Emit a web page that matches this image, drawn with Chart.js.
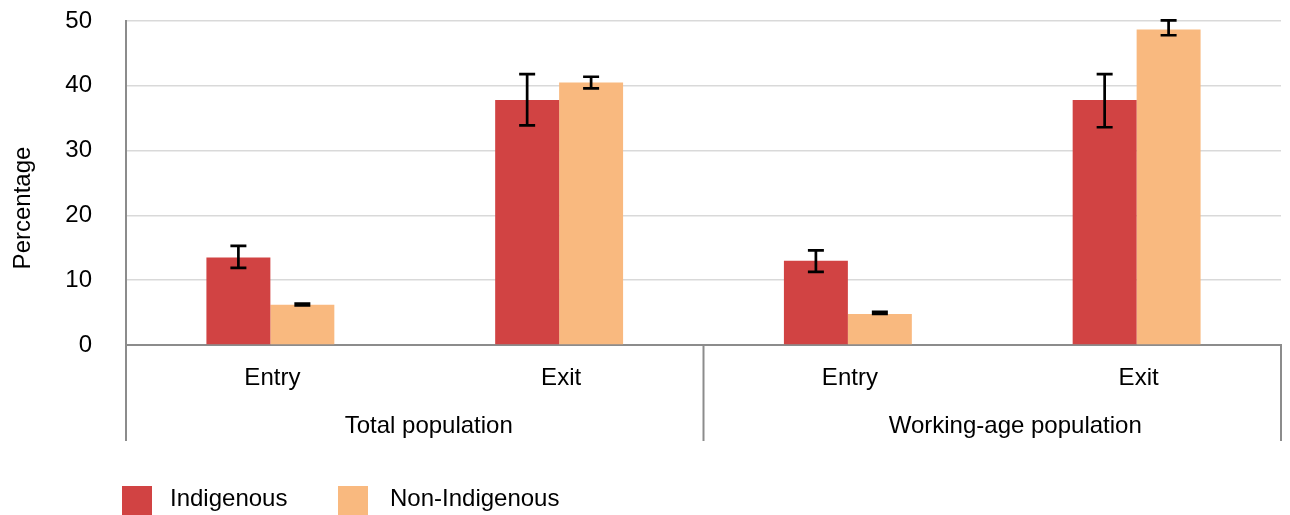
<!DOCTYPE html>
<html>
<head>
<meta charset="utf-8">
<title>Entry and exit rates</title>
<script src="https://cdn.jsdelivr.net/npm/chart.js@4/dist/chart.umd.min.js"></script>
<style>
  html, body { margin: 0; padding: 0; background: #ffffff; }
  #wrap { width: 1290px; height: 515px; position: relative; }
</style>
</head>
<body>
<div id="wrap"><canvas id="chart"></canvas></div>
<script>
// Categories and groups
const categories = ['Entry', 'Exit', 'Entry', 'Exit'];
const groups = ['Total population', 'Working-age population'];

// Series values (percentage) with confidence interval bounds
const indigenous = [13.5, 37.8, 13.0, 37.8];
const indigenousLow = [11.9, 33.9, 11.3, 33.6];
const indigenousHigh = [15.3, 41.8, 14.6, 41.8];

const nonIndigenous = [6.2, 40.5, 4.8, 48.7];
const nonIndigenousLow = [6.1, 39.6, 4.8, 47.8];
const nonIndigenousHigh = [6.4, 41.4, 5.1, 50.1];

// Y axis ticks
const yTicks = [0, 10, 20, 30, 40, 50];
const yTitle = 'Percentage';

const FONT = "'Liberation Sans', Arial, Helvetica, sans-serif";
const FONT_SIZE = 24;
const RED = '#d14343';
const ORANGE = '#f9b97f';
const AXIS_GREY = '#8c8c8c';

const intervals = [
  { low: indigenousLow, high: indigenousHigh },
  { low: nonIndigenousLow, high: nonIndigenousHigh }
];

// Draws the interval whiskers on top of each bar
const errorBars = {
  id: 'errorBars',
  afterDatasetsDraw(chart) {
    const ctx = chart.ctx;
    const y = chart.scales.y;
    ctx.save();
    ctx.strokeStyle = '#000000';
    ctx.lineWidth = 2.7;
    chart.data.datasets.forEach((ds, i) => {
      const meta = chart.getDatasetMeta(i);
      meta.data.forEach((bar, j) => {
        const yl = y.getPixelForValue(intervals[i].low[j]);
        const yh = y.getPixelForValue(intervals[i].high[j]);
        const cap = 8;
        ctx.beginPath();
        ctx.moveTo(bar.x, yl); ctx.lineTo(bar.x, yh);
        ctx.moveTo(bar.x - cap, yl); ctx.lineTo(bar.x + cap, yl);
        ctx.moveTo(bar.x - cap, yh); ctx.lineTo(bar.x + cap, yh);
        ctx.stroke();
      });
    });
    ctx.restore();
  }
};

// Group separators and group names below the category axis, y-axis title and legend
const decorations = {
  id: 'decorations',
  afterDraw(chart) {
    const ctx = chart.ctx;
    const x = chart.scales.x;
    const area = chart.chartArea;
    const bottom = area.bottom + 96;
    const mid = (x.getPixelForValue(1) + x.getPixelForValue(2)) / 2;
    ctx.save();
    ctx.strokeStyle = AXIS_GREY;
    ctx.lineWidth = 2;
    [x.left, mid, x.right].forEach(px => {
      ctx.beginPath();
      ctx.moveTo(px, area.bottom);
      ctx.lineTo(px, bottom);
      ctx.stroke();
    });

    ctx.fillStyle = '#000000';
    ctx.font = FONT_SIZE + 'px ' + FONT;

    // Group names
    ctx.textAlign = 'center';
    ctx.textBaseline = 'alphabetic';
    const groupCentres = [(x.left + mid) / 2 + 14, (mid + x.right) / 2 + 23];
    groups.forEach((g, k) => ctx.fillText(g, groupCentres[k], area.bottom + 88));

    // Axis title
    ctx.textBaseline = 'middle';
    ctx.save();
    ctx.translate(23, area.top + 187);
    ctx.rotate(-Math.PI / 2);
    ctx.fillText(yTitle, 0, 0);
    ctx.restore();

    // Legend
    const items = chart.data.datasets.map(ds => ({ label: ds.label, color: ds.backgroundColor }));
    const boxStarts = [122, 338];
    const textStarts = [170, 390];
    ctx.textAlign = 'left';
    ctx.textBaseline = 'alphabetic';
    items.forEach((it, k) => {
      ctx.fillStyle = it.color;
      ctx.fillRect(boxStarts[k], 486, 30, 30);
      ctx.fillStyle = '#000000';
      ctx.fillText(it.label, textStarts[k], 506);
    });
    ctx.restore();
  }
};

new Chart(document.getElementById('chart'), {
  type: 'bar',
  data: {
    labels: categories,
    datasets: [
      { label: 'Indigenous', data: indigenous, backgroundColor: RED,
        categoryPercentage: 0.443, barPercentage: 1.0 },
      { label: 'Non-Indigenous', data: nonIndigenous, backgroundColor: ORANGE,
        categoryPercentage: 0.443, barPercentage: 1.0 }
    ]
  },
  options: {
    responsive: true,
    maintainAspectRatio: false,
    animation: false,
    layout: { padding: { left: 0, right: 9, top: 21, bottom: 60 } },
    plugins: {
      legend: { display: false },
      tooltip: { enabled: false }
    },
    scales: {
      x: {
        grid: { display: false },
        border: { display: true, color: AXIS_GREY, width: 2 },
        ticks: { color: '#000000', font: { family: FONT, size: FONT_SIZE }, padding: 11, labelOffset: 2 },
        afterFit(scale) { scale.height = 110; }
      },
      y: {
        min: 0,
        max: 50,
        afterBuildTicks(scale) { scale.ticks = yTicks.map(v => ({ value: v })); },
        grid: {
          drawTicks: true,
          tickLength: 30,
          tickColor: 'rgba(0,0,0,0)',
          color: ctx => (ctx.tick && ctx.tick.value === 0) ? 'rgba(0,0,0,0)' : '#d9d9d9',
          lineWidth: 1.5
        },
        border: { display: true, color: AXIS_GREY, width: 2 },
        ticks: { color: '#000000', font: { family: FONT, size: FONT_SIZE }, padding: 4 },
        afterFit(scale) { scale.width = 126; }
      }
    }
  },
  plugins: [errorBars, decorations]
});
</script>
</body>
</html>
